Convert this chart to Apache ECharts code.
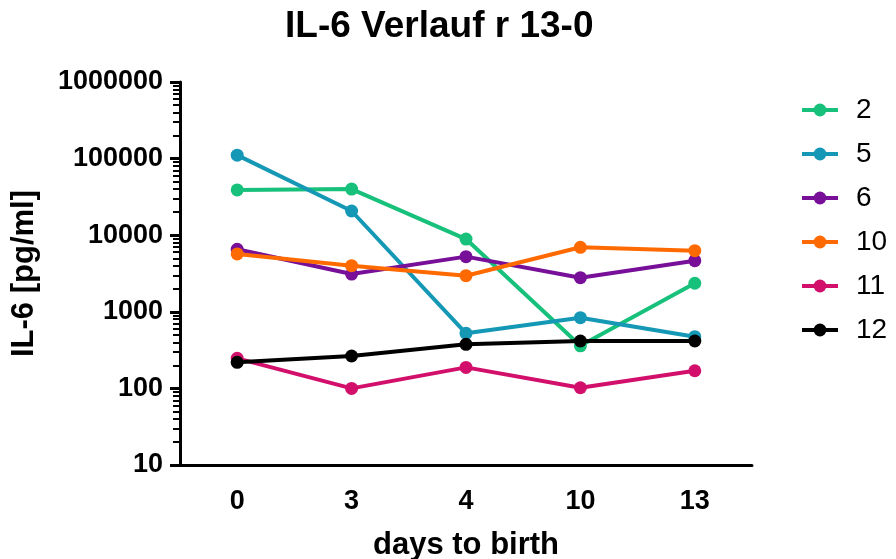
<!DOCTYPE html>
<html>
<head>
<meta charset="utf-8">
<script src="https://cdn.jsdelivr.net/npm/echarts@6/dist/echarts.min.js"></script>
<style>
  html, body { margin: 0; padding: 0; background: #fff; }
  #chart { width: 896px; height: 559px; }
</style>
</head>
<body>
<div id="chart"></div>
<script>
// days to birth (categories)
const days = ['0', '3', '4', '10', '13']

// IL-6 [pg/ml] per animal
const s2 = [39000, 40000, 8900, 360, 2360]
const s5 = [111000, 20700, 524, 838, 473]
const s6 = [6550, 3110, 5250, 2790, 4650]
const s10 = [5690, 4000, 2960, 6950, 6280]
const s11 = [247, 100, 188, 102, 170]
const s12 = [219, 265, 376, 416, 416]

const names = ['2', '5', '6', '10', '11', '12']
const colors = ['#17c07b', '#1598b5', '#770f98', '#ff6a00', '#d2106c', '#000000']

const majorTicks = [10, 100, 1000, 10000, 100000, 1000000]
let minorTicks = []
for (let d = 10; d < 1000000; d *= 10) {
  for (let k = 2; k <= 9; k++) minorTicks.push(d * k)
}

const font = 'Liberation Sans, Arial, sans-serif'
let myChart = echarts.init(document.getElementById('chart'))

const allData = [s2, s5, s6, s10, s11, s12]
const series = allData.map((d, i) => ({
  name: names[i],
  type: 'line',
  data: d,
  yAxisIndex: 0,
  symbol: 'circle',
  symbolSize: 13,
  color: colors[i],
  lineStyle: { width: 4, color: colors[i] },
  itemStyle: { color: colors[i] }
}))

myChart.setOption({
  animation: false,
  title: {
    text: 'IL-6 Verlauf r 13-0',
    left: 280,
    top: 3,
    textStyle: { fontFamily: font, fontSize: 37, fontWeight: 'bold', color: '#000' }
  },
  legend: {
    orient: 'vertical',
    left: 800,
    top: 95,
    padding: 0,
    itemWidth: 36,
    itemHeight: 16,
    itemGap: 14,
    lineStyle: { width: 4 },
    textStyle: { fontFamily: font, fontSize: 28, color: '#000', lineHeight: 30, padding: [0, 0, 0, 13] },
    data: names
  },
  grid: { left: 180, right: 144, top: 82, bottom: 94, containLabel: false, outerBoundsMode: 'none' },
  xAxis: {
    type: 'category',
    data: days,
    boundaryGap: true,
    name: 'days to birth',
    nameLocation: 'middle',
    nameGap: 65,
    nameTextStyle: { fontFamily: font, fontSize: 31, fontWeight: 'bold', color: '#000' },
    axisLine: { lineStyle: { color: '#000', width: 3 } },
    axisTick: { alignWithLabel: true, length: 9, lineStyle: { color: '#000', width: 3 } },
    axisLabel: { fontFamily: font, fontSize: 27, fontWeight: 'bold', color: '#000', margin: 23 },
    splitLine: { show: false }
  },
  yAxis: [
    {
      type: 'log',
      logBase: 10,
      min: 10,
      max: 1000000,
      name: 'IL-6 [pg/ml]',
      nameLocation: 'middle',
      nameGap: 140,
      nameTextStyle: { fontFamily: font, fontSize: 31, fontWeight: 'bold', color: '#000' },
      axisLine: { show: true, lineStyle: { color: '#000', width: 3 } },
      axisTick: { show: true, length: 10, customValues: majorTicks, lineStyle: { color: '#000', width: 3 } },
      axisLabel: {
        customValues: majorTicks,
        fontFamily: font, fontSize: 27, fontWeight: 'bold', color: '#000', margin: 17,
        formatter: v => String(Math.round(v))
      },
      splitLine: { show: false }
    },
    {
      type: 'log',
      logBase: 10,
      min: 10,
      max: 1000000,
      position: 'left',
      offset: 0,
      axisLine: { show: false },
      axisTick: { show: true, length: 7, customValues: minorTicks, lineStyle: { color: '#000', width: 2 } },
      axisLabel: { show: false },
      splitLine: { show: false }
    }
  ],
  series: series
})
</script>
</body>
</html>
